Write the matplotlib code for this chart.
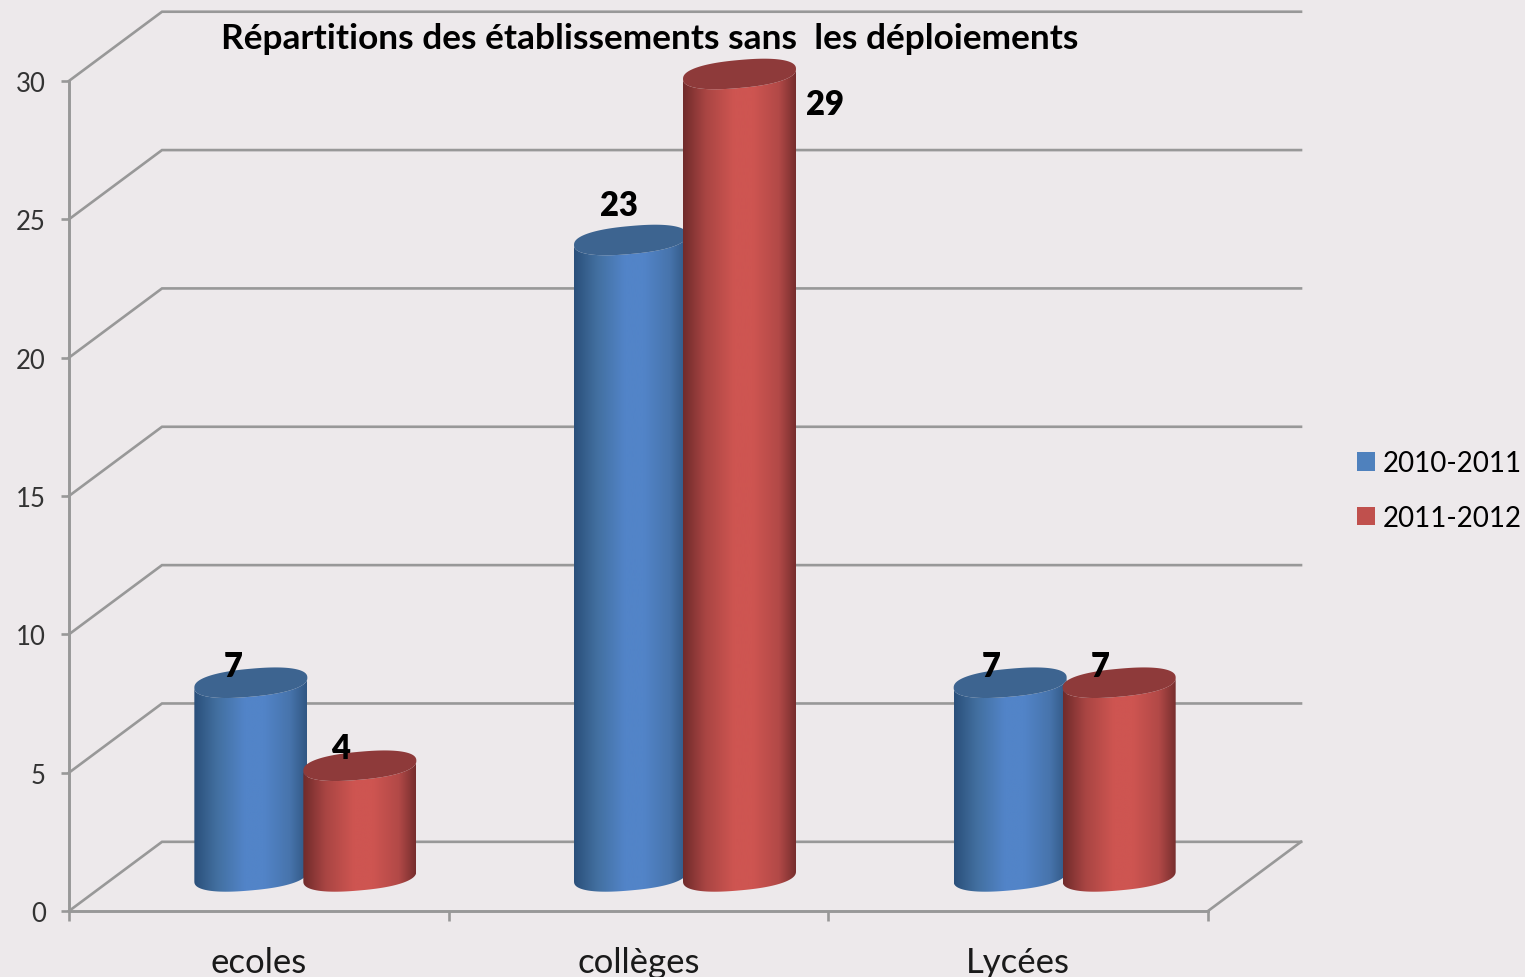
import numpy as np
from matplotlib import pyplot as plt
from matplotlib.colors import LinearSegmentedColormap
from matplotlib.patches import Patch, PathPatch, Polygon
from matplotlib.path import Path

plt.rcParams['font.family'] = ['Lato', 'DejaVu Sans']

categories = ['ecoles', 'collèges', 'Lycées']
values_2010 = [7, 23, 7]
values_2011 = [4, 29, 7]
series_names = ['2010-2011', '2011-2012']
y_ticks = [0, 5, 10, 15, 20, 25, 30]
title = 'Répartitions des établissements sans  les déploiements'

BG = '#EDE9EB'
GRID = '#989898'
WIDTH, HEIGHT = 1525, 978
PX_X, PX_Y = 379.67, 27.67   # pixels per category / per y unit
X0, Y0 = 69, 912             # pixel of the axes origin

# depth of the fake 3d box, in data units
DX, DY = 93 / PX_X, 2.5
BAR_STEP = 109 / PX_X
A = 56.5 / PX_X
B = 14 / PX_Y
K = 5 / PX_Y

blue_map = LinearSegmentedColormap.from_list(
    'blue', [(0, '#2A4F7A'), (0.2, '#426F9F'), (0.45, '#5284C8'), (0.62, '#5284C8'),
             (0.85, '#4774AC'), (1, '#315783')])
red_map = LinearSegmentedColormap.from_list(
    'red', [(0, '#702B2B'), (0.2, '#A94543'), (0.45, '#CE5551'), (0.62, '#CE5551'),
            (0.85, '#B24947'), (1, '#772E2E')])
TOP_BLUE = '#3D6490'
TOP_RED = '#8E3A3A'

# label offset from the top centre of each bar, in pixels
label_offsets_2010 = [(-18, 17), (-12, 35), (-19, 17)]
label_offsets_2011 = [(-19, 18), (85, -30), (-19, 17)]


def rim(cx, cy, t):
    # slightly squarer than an ellipse, the rims look fuller at the ends
    c = np.sign(np.cos(t)) * np.abs(np.cos(t)) ** 0.85
    s = np.sign(np.sin(t)) * np.abs(np.sin(t)) ** 0.85
    return np.column_stack([cx + A * c, cy + B * s + K * c])


def cylinder(ax, cx, value, cmap, top_color, z):
    base = DY / 2
    top = base + value
    # lower arc of the base, then back along the lower arc of the top
    t = np.linspace(np.pi, 2 * np.pi, 60)
    low = rim(cx, base, t)
    high = rim(cx, top, t[::-1])
    body = Polygon(np.vstack([low, high]), closed=True, fc='none', ec='none',
                   transform=ax.transData)
    ax.add_patch(body)
    im = ax.imshow(np.linspace(0, 1, 256).reshape(1, -1), cmap=cmap,
                   extent=(cx - A, cx + A, base - 1, top + 1), aspect='auto',
                   zorder=z, interpolation='bilinear')
    im.set_clip_path(body)
    t = np.linspace(0, 2 * np.pi, 120)
    ax.add_patch(PathPatch(Path(rim(cx, top, t)), fc=top_color, ec='none',
                           zorder=z + 0.1))
    return top


fig = plt.figure(figsize=(WIDTH / 100, HEIGHT / 100), dpi=100, facecolor=BG)
ax = fig.add_axes([0, 0, 1, 1], facecolor=BG)

# walls and floor lines behind the bars
for v in y_ticks:
    ax.plot([0, DX, 3 + DX], [v, v + DY, v + DY], color=GRID, lw=1.9, zorder=1,
            solid_joinstyle='miter')
ax.plot([3, 3 + DX], [0, DY], color=GRID, lw=1.9, zorder=1)

for i in range(len(categories)):
    centre = i + 0.5 + DX / 2
    x_blue = centre - BAR_STEP / 2
    x_red = centre + BAR_STEP / 2
    top_b = cylinder(ax, x_blue, values_2010[i], blue_map, TOP_BLUE, 2 + i)
    top_r = cylinder(ax, x_red, values_2011[i], red_map, TOP_RED, 2.5 + i)
    for x, top, val, off in [(x_blue, top_b, values_2010[i], label_offsets_2010[i]),
                             (x_red, top_r, values_2011[i], label_offsets_2011[i])]:
        ax.annotate(str(val), (x, top), xytext=off, textcoords='offset pixels',
                    ha='center', va='center', fontsize=23.5, fontweight='heavy',
                    color='black', zorder=10)

ax.set_xlim(-X0 / PX_X, (WIDTH - X0) / PX_X)
ax.set_ylim((Y0 - HEIGHT) / PX_Y, Y0 / PX_Y)

for side in ['top', 'right']:
    ax.spines[side].set_visible(False)
for side in ['left', 'bottom']:
    ax.spines[side].set_position(('data', 0))
    ax.spines[side].set_color(GRID)
    ax.spines[side].set_linewidth(2.1)
    ax.spines[side].set_zorder(1)
ax.spines['left'].set_bounds(0, 30)
ax.spines['bottom'].set_bounds(0, 3)

ax.set_yticks(y_ticks)
ax.tick_params(axis='y', direction='out', length=5.8, width=1.9, color=GRID,
               labelsize=18.5, labelcolor='#333333', pad=11)
ax.set_xticks([0, 1, 2, 3])
ax.set_xticklabels([])
ax.tick_params(axis='x', direction='out', length=7, width=1.9, color=GRID)
ax.set_xticks([0.5, 1.5, 2.5], minor=True)
ax.set_xticklabels(categories, minor=True)
ax.tick_params(axis='x', which='minor', length=0, labelsize=25, pad=25,
               labelcolor='#1a1a1a')

ax.text(650 / WIDTH, 1 - 39 / HEIGHT, title, transform=ax.transAxes, ha='center',
        va='center', fontsize=25.4, fontweight='bold', color='black')

handles = [Patch(fc='#4F81BD', label=series_names[0]),
           Patch(fc='#C0504D', label=series_names[1])]
ax.legend(handles=handles, loc='center left',
          bbox_to_anchor=(1357 / WIDTH, 1 - 491.5 / HEIGHT), frameon=False,
          fontsize=20, handlelength=0.63, handleheight=0.63, handletextpad=0.3,
          labelspacing=1.02, borderpad=0, borderaxespad=0)

fig.savefig('out.png', dpi=100, facecolor=BG)
